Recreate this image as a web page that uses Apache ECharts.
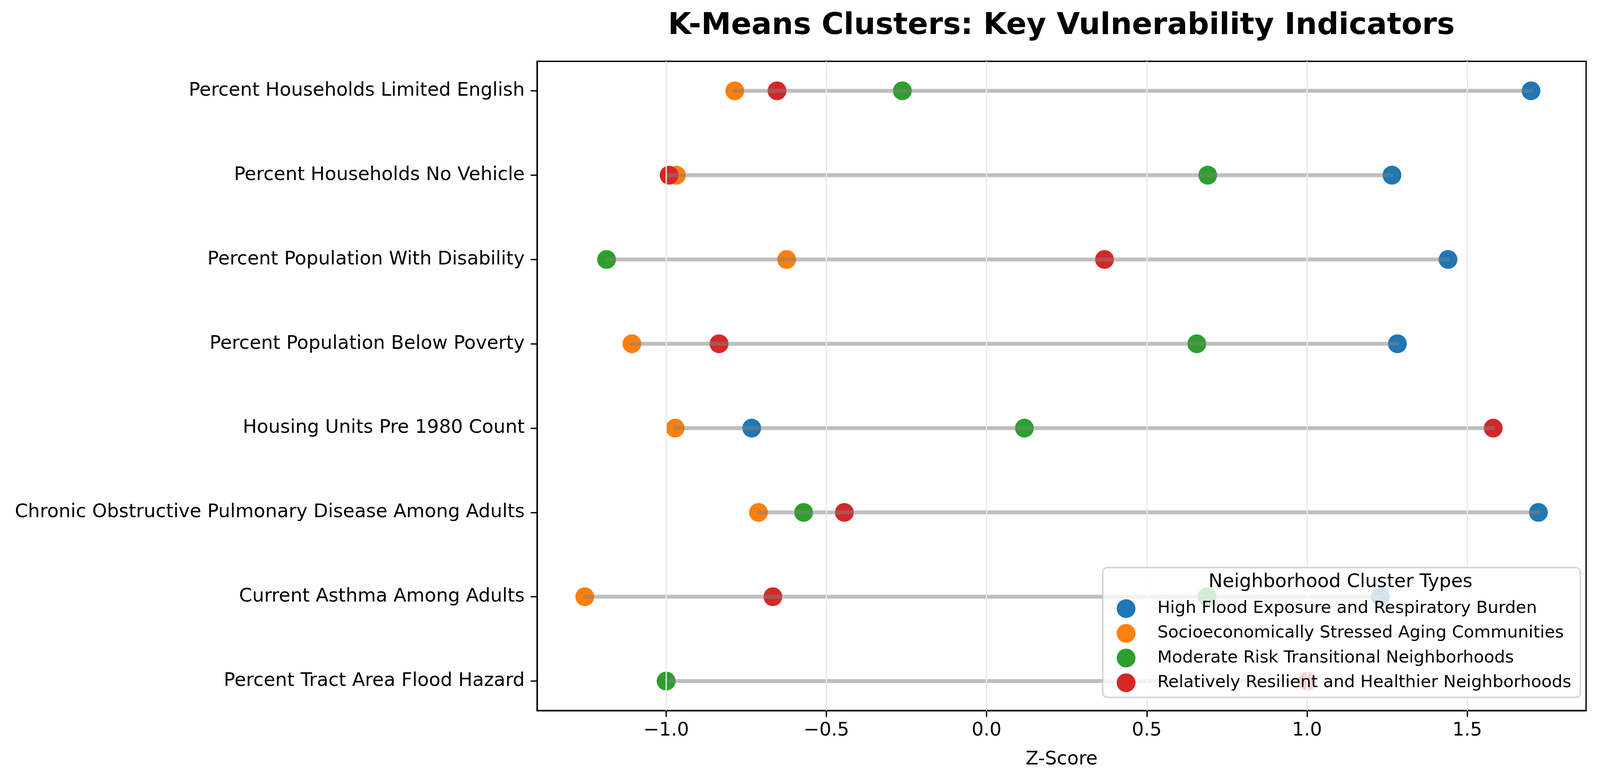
<!DOCTYPE html>
<html><head><meta charset="utf-8">
<script src="https://cdn.jsdelivr.net/npm/echarts@6/dist/echarts.min.js"></script>
<style>html,body{margin:0;padding:0;background:#fff;overflow:hidden}#c{position:absolute;left:0;top:0}</style>
</head><body><div id="c"></div>
<script>
// Categories, bottom (y=0) to top
const features = [
  'Percent Tract Area Flood Hazard',
  'Current Asthma Among Adults',
  'Chronic Obstructive Pulmonary Disease Among Adults',
  'Housing Units Pre 1980 Count',
  'Percent Population Below Poverty',
  'Percent Population With Disability',
  'Percent Households No Vehicle',
  'Percent Households Limited English'
];
const clusterNames = [
  'High Flood Exposure and Respiratory Burden',
  'Socioeconomically Stressed Aging Communities',
  'Moderate Risk Transitional Neighborhoods',
  'Relatively Resilient and Healthier Neighborhoods'
];
const clusterColors = ['#1f77b4', '#ff7f0e', '#2ca02c', '#d62728'];
// Z-scores per cluster, same order as features
const highFlood     = [ 1.00,  1.229,  1.722, -0.733,  1.282,  1.440,  1.265,  1.699];
const socioStressed = [-1.00, -1.254, -0.712, -0.972, -1.107, -0.624, -0.968, -0.786];
const moderateRisk  = [-1.00,  0.688, -0.571,  0.118,  0.656, -1.186,  0.690, -0.263];
const resilient     = [ 1.00, -0.667, -0.444,  1.581, -0.835,  0.368, -0.991, -0.654];
const xTicks = [-1.0, -0.5, 0.0, 0.5, 1.0, 1.5];
const yTicks = [0, 1, 2, 3, 4, 5, 6, 7];
const chartTitle = 'K-Means Clusters: Key Vulnerability Indicators';
const legendTitle = 'Neighborhood Cluster Types';
const xName = 'Z-Score';

const clusters = [highFlood, socioStressed, moderateRisk, resilient];
const allVals = clusters.flat();
const dMin = Math.min(...allVals), dMax = Math.max(...allVals);
const pad = (dMax - dMin) * 0.05;
const xMin = dMin - pad, xMax = dMax + pad;
const yPad = (yTicks.length - 1) * 0.05;

const rangeData = features.map((f, i) => {
  const vs = clusters.map(c => c[i]);
  return [i, Math.min(...vs), Math.max(...vs)];
});

const W = window.innerWidth || 4254, H = window.innerHeight || 2007;
const sx = W / 4254, sy = H / 2007, s = Math.min(sx, sy);
const el = document.getElementById('c');
el.style.width = W + 'px'; el.style.height = H + 'px';

const FONT = 'DejaVu Sans';
const chart = echarts.init(el, null, {renderer: 'canvas', width: W, height: H});

const series = [];
series.push({
  type: 'line', data: [], z: 1, silent: true,
  markLine: {
    silent: true, symbol: ['none', 'none'], label: {show: false},
    lineStyle: {type: 'solid', color: '#e8e8e8', width: 3.3 * s},
    emphasis: {disabled: true},
    data: xTicks.map(v => ({xAxis: v}))
  }
});
clusters.forEach((c, k) => {
  series.push({
    name: clusterNames[k], type: 'scatter', z: 2,
    symbol: 'circle', symbolSize: 50 * s,
    itemStyle: {color: clusterColors[k], opacity: 1},
    emphasis: {disabled: true},
    data: c.map((v, i) => [v, i])
  });
});
series.push({
  type: 'custom', z: 3, silent: true,
  encode: {x: [1, 2], y: 0},
  data: rangeData,
  renderItem: (params, api) => {
    const y = api.value(0);
    const a = api.coord([api.value(1), y]);
    const b = api.coord([api.value(2), y]);
    return {
      type: 'line',
      shape: {x1: a[0], y1: a[1], x2: b[0], y2: b[1]},
      style: {stroke: 'rgba(128,128,128,0.5)', lineWidth: 10.4 * s, lineCap: 'square'}
    };
  }
});

const axisLineStyle = {color: '#000', width: 3.5 * s};
chart.setOption({
  animation: false,
  backgroundColor: '#ffffff',
  grid: {left: 1428 * sx, right: 37 * sx, top: 157 * sy, bottom: 188 * sy, show: true,
         borderColor: '#000', borderWidth: 3.5 * s, backgroundColor: 'transparent'},
  xAxis: {
    type: 'value', min: xMin, max: xMax,
    axisLine: {show: true, onZero: false, lineStyle: axisLineStyle},
    axisTick: {show: true, customValues: xTicks, length: 17 * s, inside: false, lineStyle: axisLineStyle},
    axisLabel: {customValues: xTicks, margin: 29 * s, color: '#000', fontSize: 50 * s, fontFamily: FONT,
                formatter: v => Number(v).toFixed(1).replace('-', '\u2212')},
    splitLine: {show: false},
    name: xName, nameLocation: 'middle', nameGap: 105 * s,
    nameTextStyle: {color: '#000', fontSize: 50 * s, fontFamily: FONT}
  },
  yAxis: {
    type: 'value', min: -yPad, max: (yTicks.length - 1) + yPad,
    axisLine: {show: true, onZero: false, lineStyle: axisLineStyle},
    axisTick: {show: true, customValues: yTicks, length: 17 * s, inside: false, lineStyle: axisLineStyle},
    axisLabel: {customValues: yTicks, margin: 33 * s, color: '#000', fontSize: 50 * s, fontFamily: FONT,
                formatter: v => features[Math.round(v)]},
    splitLine: {show: false}
  },
  legend: {
    data: clusterNames, orient: 'vertical', left: 2932 * sx, top: 1453 * sy,
    padding: [84 * s, 24 * s, 14 * s, 37 * s], itemWidth: 50 * s, itemHeight: 50 * s, itemGap: 15.7 * s,
    icon: 'circle',
    backgroundColor: 'rgba(255,255,255,0.8)', borderColor: 'rgba(204,204,204,0.8)',
    borderWidth: 4 * s, borderRadius: 12 * s, z: 10, selectedMode: false,
    textStyle: {color: '#000', fontSize: 45 * s, fontFamily: FONT, padding: [0, 0, 0, 53 * s]}
  },
  graphic: [
    {type: 'text', x: 2822 * sx, y: 67 * sy, z: 100,
     style: {text: chartTitle, fill: '#000', font: 'bold ' + (80 * s) + 'px "DejaVu Sans"',
             textAlign: 'center', textVerticalAlign: 'middle'}},
    {type: 'text', x: 3564 * sx, y: 1490 * sy, z: 100,
     style: {text: legendTitle, fill: '#000', font: (50 * s) + 'px "DejaVu Sans"',
             textAlign: 'center', textVerticalAlign: 'middle'}}
  ],
  series: series
});
</script>
</body></html>
